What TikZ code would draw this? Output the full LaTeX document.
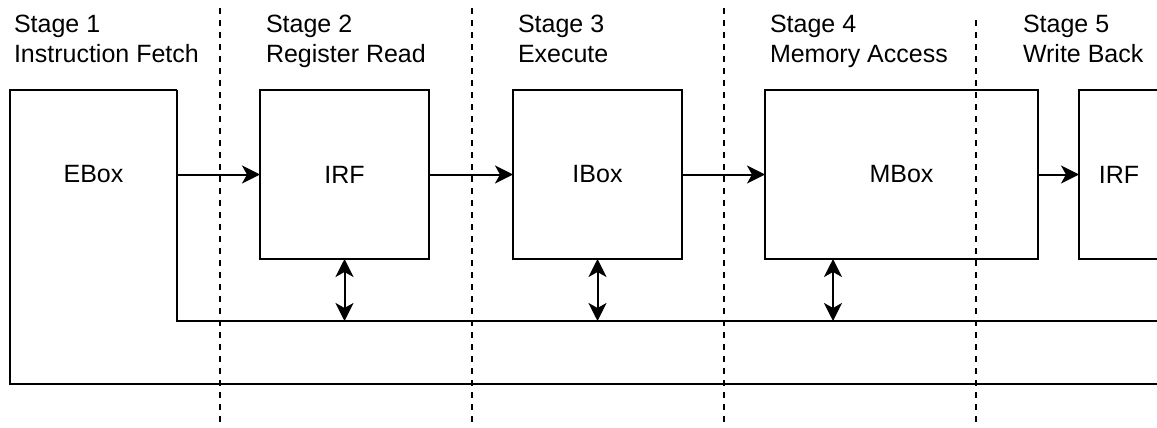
\documentclass[tikz,border=0pt]{standalone}
\usepackage{fontspec}
\setmainfont{Liberation Sans}
\usetikzlibrary{positioning,arrows.meta}

\begin{document}
\begin{tikzpicture}[x=0.5pt,y=-0.5pt,line width=1pt,>={Stealth[length=9pt,width=9pt,inset=2.5pt]},
    unit node/.style={draw,rectangle,inner sep=0pt,outer sep=0pt,minimum width=84.5pt,minimum height=84.5pt,font=\fontsize{12.5}{15}\selectfont},
    stage node/.style={anchor=north west,align=left,inner sep=0pt,font=\fontsize{12.5}{15}\selectfont},
    divider/.style={dash pattern=on 3pt off 3pt}]
    \useasboundingbox (0,0) rectangle (1157,428);

    % pipeline units
    \node[unit node,draw=none,minimum width=83.5pt] (ebox) at (93.5,174.5) {EBox};
    \node[unit node] (irf) [right=41.5pt of ebox] {IRF};
    \node[unit node] (ibox) [right=42pt of irf] {IBox};
    \node[unit node,minimum width=136.5pt] (mbox) [right=41.5pt of ibox] {MBox};
    \node[unit node,minimum width=40pt] (irf2) [right=20.5pt of mbox] {IRF};

    % buses
    \coordinate (bus1) at (1160,321);
    \coordinate (bus2) at (1160,384);
    \draw (ebox.north east) -- (ebox.north west) -- (ebox.west |- bus2) -- (bus2);
    \draw (ebox.north east) -- (ebox.east |- bus1) -- (bus1);

    \draw[->] (ebox.east) -- (irf);
    \draw[->] (irf) -- (ibox);
    \draw[->] (ibox) -- (mbox);
    \draw[->] (mbox) -- (irf2);

    \draw[<->] (irf.south) -- (irf.south |- bus1);
    \draw[<->] (ibox.south) -- (ibox.south |- bus1);
    \draw[<->] ([xshift=34pt]mbox.south west) -- ([xshift=34pt]mbox.south west |- bus1);

    % stage boundaries
    \foreach \x/\y in {219.5/8,471.5/8,723.5/8,975.5/20}
        \draw[divider] (\x,\y) -- (\x,428);

    \node[stage node] (s1) at (13,14) {Stage 1\\Instruction Fetch};
    \node[stage node] (s2) at (265,14) {Stage 2\\Register Read};
    \node[stage node] (s3) at (517,14) {Stage 3\\Execute};
    \node[stage node] (s4) at (769,14) {Stage 4\\Memory Access};
    \node[stage node] (s5) at (1022,14) {Stage 5\\Write Back};
\end{tikzpicture}
\end{document}
